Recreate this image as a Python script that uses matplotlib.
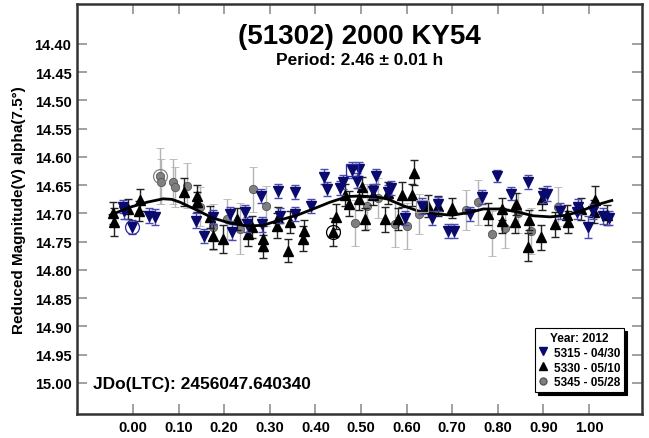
import matplotlib
matplotlib.use("Agg")
import matplotlib.pyplot as plt
from matplotlib.lines import Line2D

plt.rcParams['font.family'] = ['Liberation Sans', 'DejaVu Sans']

TITLE = "(51302) 2000 KY54"
SUBTITLE = "Period: 2.46 \u00b1 0.01 h"
JDO = "JDo(LTC): 2456047.640340"
YLABEL = "Reduced Magnitude(V) alpha(7.5\u00b0)"
LEGEND_TITLE = "Year: 2012"
LABELS = ["5315 - 04/30", "5330 - 05/10", "5345 - 05/28"]

XTICKS = [0.0, 0.1, 0.2, 0.3, 0.4, 0.5, 0.6, 0.7, 0.8, 0.9, 1.0]
YTICKS = [14.40, 14.45, 14.50, 14.55, 14.60, 14.65, 14.70, 14.75, 14.80, 14.85, 14.90, 14.95, 15.00]

# Session 5315 (navy, down triangles)
navy_phase = [-0.022, -0.020, -0.002, 0.035, 0.048, 0.138, 0.156, 0.175, 0.213, 0.217,
              0.246, 0.250, 0.281, 0.283, 0.318, 0.322, 0.355, 0.355, 0.390, 0.419,
              0.425, 0.454, 0.461, 0.480, 0.491, 0.496, 0.533, 0.526, 0.566, 0.559,
              0.596, 0.656, 0.634, 0.669, 0.691, 0.704, 0.739, 0.765, 0.798, 0.829,
              0.866, 0.899, 0.908, 0.936, 0.976, 0.974, 0.998, 1.009, 1.031, 1.044]
navy_mag = [14.688, 14.696, 14.724, 14.704, 14.706, 14.713, 14.740, 14.706, 14.701, 14.733,
            14.697, 14.719, 14.669, 14.719, 14.660, 14.704, 14.662, 14.701, 14.687, 14.635,
            14.657, 14.655, 14.644, 14.623, 14.642, 14.621, 14.634, 14.660, 14.655, 14.662,
            14.708, 14.708, 14.687, 14.683, 14.731, 14.731, 14.701, 14.671, 14.634, 14.665,
            14.644, 14.669, 14.665, 14.696, 14.688, 14.697, 14.724, 14.696, 14.704, 14.708]
navy_err = [0.012, 0.014, 0.013, 0.013, 0.014, 0.013, 0.013, 0.012, 0.013, 0.014,
            0.012, 0.013, 0.013, 0.013, 0.012, 0.013, 0.013, 0.013, 0.012, 0.013,
            0.012, 0.012, 0.013, 0.014, 0.013, 0.012, 0.013, 0.013, 0.012, 0.013,
            0.013, 0.013, 0.014, 0.013, 0.012, 0.012, 0.013, 0.012, 0.011, 0.012,
            0.013, 0.012, 0.013, 0.014, 0.013, 0.013, 0.020, 0.013, 0.014, 0.013]

# Session 5330 (black, up triangles)
black_phase = [-0.044, -0.042, -0.011, 0.015, 0.013, 0.112, 0.140, 0.140, 0.169, 0.175,
               0.197, 0.228, 0.252, 0.261, 0.285, 0.285, 0.316, 0.318, 0.344, 0.340,
               0.375, 0.373, 0.439, 0.445, 0.465, 0.474, 0.496, 0.502, 0.509, 0.526,
               0.553, 0.559, 0.581, 0.590, 0.612, 0.616, 0.647, 0.669, 0.700, 0.779,
               0.809, 0.809, 0.840, 0.838, 0.866, 0.868, 0.895, 0.897, 0.925, 0.954,
               0.952, 0.982, 1.013, 1.011, 1.039]
black_mag = [14.699, 14.715, 14.692, 14.676, 14.696, 14.662, 14.669, 14.680, 14.706, 14.740,
             14.745, 14.710, 14.736, 14.724, 14.745, 14.758, 14.722, 14.708, 14.715, 14.766,
             14.731, 14.745, 14.733, 14.706, 14.667, 14.683, 14.674, 14.653, 14.710, 14.667,
             14.710, 14.664, 14.710, 14.667, 14.667, 14.628, 14.687, 14.687, 14.690, 14.701,
             14.692, 14.713, 14.683, 14.715, 14.759, 14.712, 14.742, 14.674, 14.719, 14.715,
             14.703, 14.692, 14.676, 14.697, 14.703]
black_err = [0.020, 0.025, 0.018, 0.020, 0.018, 0.025, 0.020, 0.018, 0.020, 0.022,
             0.025, 0.020, 0.022, 0.020, 0.022, 0.020, 0.022, 0.020, 0.020, 0.020,
             0.020, 0.022, 0.025, 0.022, 0.020, 0.022, 0.020, 0.018, 0.020, 0.018,
             0.022, 0.020, 0.020, 0.022, 0.020, 0.022, 0.020, 0.018, 0.018, 0.020,
             0.020, 0.022, 0.020, 0.020, 0.025, 0.018, 0.022, 0.020, 0.022, 0.020,
             0.018, 0.020, 0.025, 0.020, 0.018]

# Session 5345 (gray, circles)
gray_phase = [0.059, 0.061, 0.088, 0.092, 0.118, 0.147, 0.175, 0.206, 0.235, 0.263,
              0.292, 0.487, 0.513, 0.537, 0.575, 0.601, 0.627, 0.730, 0.757, 0.787,
              0.816, 0.844, 0.873, 0.932]
gray_mag = [14.634, 14.644, 14.644, 14.653, 14.651, 14.688, 14.724, 14.710, 14.727, 14.657,
            14.687, 14.717, 14.687, 14.673, 14.719, 14.722, 14.701, 14.694, 14.680, 14.736,
            14.726, 14.699, 14.731, 14.688]
gray_err = [0.050, 0.040, 0.040, 0.035, 0.040, 0.035, 0.040, 0.035, 0.045, 0.040,
            0.035, 0.040, 0.040, 0.035, 0.040, 0.040, 0.035, 0.035, 0.040, 0.040,
            0.035, 0.035, 0.040, 0.035]

# Fourier fit curve
fit_phase = [-0.05, -0.007, 0.031, 0.066, 0.085, 0.103, 0.14, 0.175, 0.213, 0.25,
             0.285, 0.32, 0.36, 0.395, 0.432, 0.47, 0.498, 0.535, 0.557, 0.592,
             0.63, 0.667, 0.70, 0.739, 0.768, 0.805, 0.842, 0.877, 0.915, 0.952,
             0.987, 1.024, 1.05]
fit_mag = [14.703, 14.689, 14.680, 14.674, 14.675, 14.680, 14.694, 14.708, 14.717, 14.722,
           14.721, 14.712, 14.703, 14.692, 14.680, 14.670, 14.669, 14.671, 14.674, 14.686,
           14.697, 14.701, 14.703, 14.698, 14.692, 14.692, 14.697, 14.704, 14.706, 14.703,
           14.694, 14.683, 14.677]

# Circled first points of each session, boxed points
circled = [(navy_phase[2], navy_mag[2], '#2a2aa0'),
           (gray_phase[0], gray_mag[0], '#808080'),
           (black_phase[22], black_mag[22], '#000000')]
boxed = [(navy_phase[23], navy_mag[23], '#2a2aa0'),
         (navy_phase[32], navy_mag[32], '#a0a0a0')]

NAVY = '#0a0a6e'
W, H = 649, 439
fig = plt.figure(figsize=(W / 100, H / 100), dpi=100)
ax = fig.add_axes([77 / W, 1 - 415 / H, (642 - 77) / W, (415 - 5) / H])

ax.errorbar(gray_phase, gray_mag, yerr=gray_err, fmt='o', ms=6, mfc='#808080',
            mec='#555555', mew=0.6, ecolor='#b4b4b4', elinewidth=1.0, capsize=3, capthick=1.0,
            zorder=2)
ax.errorbar(black_phase, black_mag, yerr=black_err, fmt='^', ms=6.5, mfc='black',
            mec='black', ecolor='#222222', elinewidth=1.0, capsize=3, capthick=1.0, zorder=3)
ax.errorbar(navy_phase, navy_mag, yerr=navy_err, fmt='v', ms=6.5, mfc=NAVY,
            mec=NAVY, ecolor='#4a4ab0', elinewidth=1.0, capsize=3, capthick=1.0, zorder=4)

ax.plot(fit_phase, fit_mag, color='black', lw=2.0, zorder=5)

for px, py, c in circled:
    ax.plot([px], [py], 'o', ms=10, mfc='none', mec=c, mew=0.9, zorder=6)
for px, py, c in boxed:
    ax.plot([px], [py], 's', ms=8.5, mfc='none', mec=c, mew=0.9, zorder=6)

ax.set_xlim(-0.1228, 1.1162)
ax.set_ylim(15.0549, 14.3292)
ax.set_xticks(XTICKS)
ax.set_xticklabels([f"{v:.2f}" for v in XTICKS])
ax.set_yticks(YTICKS)
ax.set_yticklabels([f"{v:.2f}" for v in YTICKS])
ax.tick_params(direction='in', length=7, width=1.2, color='#909090',
               top=True, right=True, labelsize=10.5, pad=4)
for lab in ax.get_xticklabels() + ax.get_yticklabels():
    lab.set_fontweight('bold')
ax.tick_params(axis='x', pad=4)
for s in ax.spines.values():
    s.set_linewidth(1.8)
    s.set_color('#333333')

ax.set_ylabel(YLABEL, fontsize=11, fontweight='bold', labelpad=6)

ax.text(0.5, 1 - (37 - 5) / 410, TITLE, transform=ax.transAxes, ha='center', va='center',
        fontsize=20, fontweight='bold')
ax.text(0.5, 1 - (60 - 5) / 410, SUBTITLE, transform=ax.transAxes, ha='center', va='center',
        fontsize=12.5, fontweight='bold')
ax.text((93 - 77) / 565, 1 - (385 - 5) / 410, JDO, transform=ax.transAxes, ha='left',
        va='center', fontsize=12.5, fontweight='bold')

handles = [Line2D([], [], ls='none', marker='v', ms=6, mfc=NAVY, mec=NAVY),
           Line2D([], [], ls='none', marker='^', ms=6, mfc='black', mec='black'),
           Line2D([], [], ls='none', marker='o', ms=5, mfc='#808080', mec='#555555')]
leg = ax.legend(handles, LABELS, title=LEGEND_TITLE, loc='lower right',
                bbox_to_anchor=((624 - 77) / 565, (415 - 393) / 410),
                prop={'size': 8.5, 'weight': 'bold'}, title_fontproperties={'size': 8.5, 'weight': 'bold'},
                frameon=True, fancybox=False, shadow={'color': 'black', 'alpha': 1},
                handlelength=0.8, handletextpad=0.5, borderpad=0.3, labelspacing=0.25,
                borderaxespad=0)
leg.get_frame().set_edgecolor('black')
leg.get_frame().set_linewidth(0.8)

fig.savefig('out.png', dpi=100)
